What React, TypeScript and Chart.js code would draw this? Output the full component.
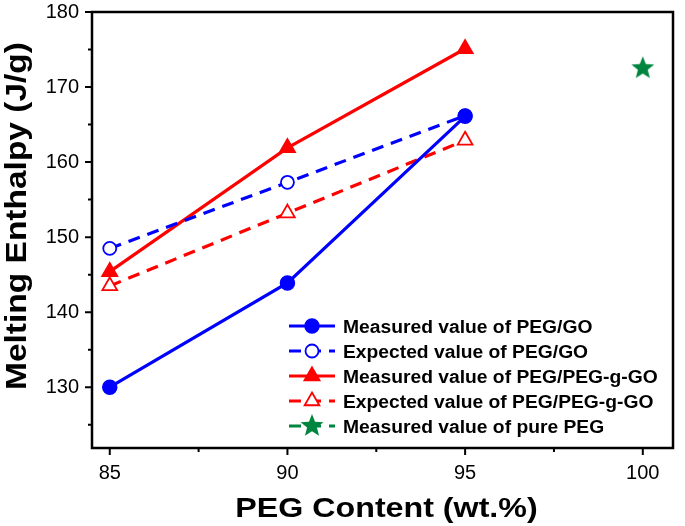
import React, { useEffect, useRef } from 'react';
import { Chart, registerables } from 'chart.js';
import { drawPoint } from 'chart.js/helpers';

Chart.register(...registerables);

// PEG content (wt.%) and melting enthalpy (J/g)
const contents = [85, 90, 95];
const measuredGO = [130, 143.9, 166.1];
const expectedGO = [148.5, 157.3, 166.2];
const measuredGGO = [145.4, 161.9, 175.1];
const expectedGGO = [143.5, 153.2, 162.9];
const pureContent = [100];
const pureMeasured = [172.5];

const seriesLabels = [
  'Measured value of PEG/GO',
  'Expected value of PEG/GO',
  'Measured value of PEG/PEG-g-GO',
  'Expected value of PEG/PEG-g-GO',
  'Measured value of pure PEG',
];

const xMajorTicks = [85, 90, 95, 100];
const xMinorTicks = [87.5, 92.5, 97.5];
const yMajorTicks = [130, 140, 150, 160, 170, 180];
const yMinorTicks = [125, 135, 145, 155, 165, 175];

const FONT = '"Liberation Sans", Arial, Helvetica, sans-serif';
const BLUE = '#0000ff';
const RED = '#ff0000';
const GREEN = '#00853f';

function makeStar(r: number, color: string) {
  const c = document.createElement('canvas');
  const s = Math.ceil(r * 2 + 2);
  c.width = s;
  c.height = s;
  const g = c.getContext('2d')!;
  g.fillStyle = color;
  g.beginPath();
  for (let i = 0; i < 10; i++) {
    const rad = i % 2 === 0 ? r : r * 0.43;
    const a = -Math.PI / 2 + (i * Math.PI) / 5;
    g.lineTo(s / 2 + rad * Math.cos(a), s / 2 + rad * Math.sin(a));
  }
  g.closePath();
  g.fill();
  return c;
}

function toPoints(xs: number[], ys: number[]) {
  return xs.map((x, i) => ({ x, y: ys[i] }));
}

function stretchedText(
  ctx: CanvasRenderingContext2D,
  text: string,
  x: number,
  y: number,
  font: string,
  sx: number,
  rot = 0,
  align: CanvasTextAlign = 'center',
) {
  ctx.save();
  ctx.translate(x, y);
  ctx.rotate(rot);
  ctx.scale(sx, 1);
  ctx.font = font;
  ctx.fillStyle = '#000';
  ctx.textAlign = align;
  ctx.textBaseline = 'alphabetic';
  ctx.fillText(text, 0, 0);
  ctx.restore();
}

// frame, outward ticks, axis titles and the inset legend
const decorPlugin = {
  id: 'decor',
  afterDraw(chart: any) {
    const { ctx, chartArea: a, scales } = chart;
    const xs = scales.x;
    const ys = scales.y;
    ctx.save();
    ctx.strokeStyle = '#000';
    ctx.lineWidth = 2.5;
    ctx.strokeRect(a.left, a.top, a.right - a.left, a.bottom - a.top);

    ctx.lineWidth = 2;
    ctx.beginPath();
    yMajorTicks.forEach((v) => {
      const p = ys.getPixelForValue(v);
      ctx.moveTo(a.left - 7, p);
      ctx.lineTo(a.left, p);
    });
    yMinorTicks.forEach((v) => {
      const p = ys.getPixelForValue(v);
      ctx.moveTo(a.left - 4, p);
      ctx.lineTo(a.left, p);
    });
    xMajorTicks.forEach((v) => {
      const p = xs.getPixelForValue(v);
      ctx.moveTo(p, a.bottom);
      ctx.lineTo(p, a.bottom + 7);
    });
    xMinorTicks.forEach((v) => {
      const p = xs.getPixelForValue(v);
      ctx.moveTo(p, a.bottom);
      ctx.lineTo(p, a.bottom + 4);
    });
    ctx.stroke();
    ctx.restore();

    stretchedText(ctx, 'PEG Content (wt.%)', (a.left + a.right) / 2 + 4, 517, `bold 28px ${FONT}`, 1.15);
    stretchedText(ctx, 'Melting Enthalpy (J/g)', 26, 216, `bold 29px ${FONT}`, 1.155, -Math.PI / 2);

    // legend
    const lx = a.left + 197;
    let ly = a.top + 314;
    chart.data.datasets.forEach((ds: any) => {
      ctx.save();
      ctx.strokeStyle = ds.borderColor;
      ctx.lineWidth = 3;
      ctx.setLineDash(ds.borderDash || []);
      ctx.beginPath();
      ctx.moveTo(lx, ly);
      ctx.lineTo(lx + 46, ly);
      ctx.stroke();
      ctx.setLineDash([]);
      ctx.fillStyle = ds.pointBackgroundColor;
      ctx.strokeStyle = ds.pointBorderColor;
      ctx.lineWidth = ds.pointBorderWidth;
      drawPoint(ctx, { pointStyle: ds.pointStyle, radius: ds.pointRadius, borderWidth: ds.pointBorderWidth, rotation: 0 } as any, lx + 23, ly);
      ctx.restore();
      stretchedText(ctx, ds.label, lx + 54, ly + 6.5, `bold 18px ${FONT}`, 1.07, 0, 'left');
      ly += 25;
    });
  },
};

const App: React.FC = () => {
  const canvasRef = useRef<HTMLCanvasElement>(null);

  useEffect(() => {
    const ctx = canvasRef.current?.getContext('2d');
    if (!ctx) return;
    const star = makeStar(12, GREEN);

    const chart = new Chart(ctx, {
      type: 'line',
      data: {
        datasets: [
          {
            label: seriesLabels[0],
            data: toPoints(contents, measuredGO),
            borderColor: BLUE,
            borderWidth: 3.2,
            borderDash: [],
            pointStyle: 'circle',
            pointRadius: 7,
            pointBorderWidth: 1.5,
            pointBackgroundColor: BLUE,
            pointBorderColor: BLUE,
          },
          {
            label: seriesLabels[1],
            data: toPoints(contents, expectedGO),
            borderColor: BLUE,
            borderWidth: 3.2,
            borderDash: [12, 8],
            pointStyle: 'circle',
            pointRadius: 6.5,
            pointBorderWidth: 1.8,
            pointBackgroundColor: '#ffffff',
            pointBorderColor: BLUE,
          },
          {
            label: seriesLabels[2],
            data: toPoints(contents, measuredGGO),
            borderColor: RED,
            borderWidth: 3.2,
            borderDash: [],
            pointStyle: 'triangle',
            pointRadius: 9,
            pointBorderWidth: 1.5,
            pointBackgroundColor: RED,
            pointBorderColor: RED,
          },
          {
            label: seriesLabels[3],
            data: toPoints(contents, expectedGGO),
            borderColor: RED,
            borderWidth: 3.2,
            borderDash: [12, 8],
            pointStyle: 'triangle',
            pointRadius: 8.5,
            pointBorderWidth: 1.8,
            pointBackgroundColor: '#ffffff',
            pointBorderColor: RED,
          },
          {
            label: seriesLabels[4],
            data: toPoints(pureContent, pureMeasured),
            borderColor: GREEN,
            borderWidth: 3,
            borderDash: [12, 8],
            showLine: false,
            pointStyle: star,
            pointRadius: 12,
            pointBorderWidth: 0,
            pointBackgroundColor: GREEN,
            pointBorderColor: GREEN,
          },
        ] as any,
      },
      options: {
        animation: false,
        responsive: false,
        layout: { padding: { top: 11, right: 4, left: 0, bottom: 0 } },
        plugins: {
          legend: { display: false },
          tooltip: { enabled: false },
        },
        scales: {
          x: {
            type: 'linear',
            min: 84.5,
            max: 100.85,
            afterFit: (s: any) => {
              s.height = 78;
              s.paddingLeft = 0;
              s.paddingRight = 0;
            },
            afterBuildTicks: (s: any) => {
              s.ticks = xMajorTicks.map((value) => ({ value }));
            },
            grid: { display: false, drawTicks: false },
            border: { display: false },
            ticks: {
              padding: 13,
              color: '#000',
              font: { family: FONT, size: 20 },
              maxRotation: 0,
            },
          },
          y: {
            type: 'linear',
            min: 121.9,
            max: 180,
            afterFit: (s: any) => {
              s.width = 92;
              s.paddingTop = 0;
              s.paddingBottom = 0;
            },
            afterBuildTicks: (s: any) => {
              s.ticks = yMajorTicks.map((value) => ({ value }));
            },
            grid: { display: false, drawTicks: false },
            border: { display: false },
            ticks: {
              padding: 13,
              color: '#000',
              font: { family: FONT, size: 20 },
            },
          },
        },
      },
      plugins: [decorPlugin],
    });

    return () => {
      chart.destroy();
    };
  }, []);

  return (
    <div style={{ position: 'fixed', left: 0, top: 0, width: 685, height: 526, background: '#fff' }}>
      <canvas ref={canvasRef} width={685} height={526} style={{ display: 'block' }}></canvas>
    </div>
  );
};

export default App;
